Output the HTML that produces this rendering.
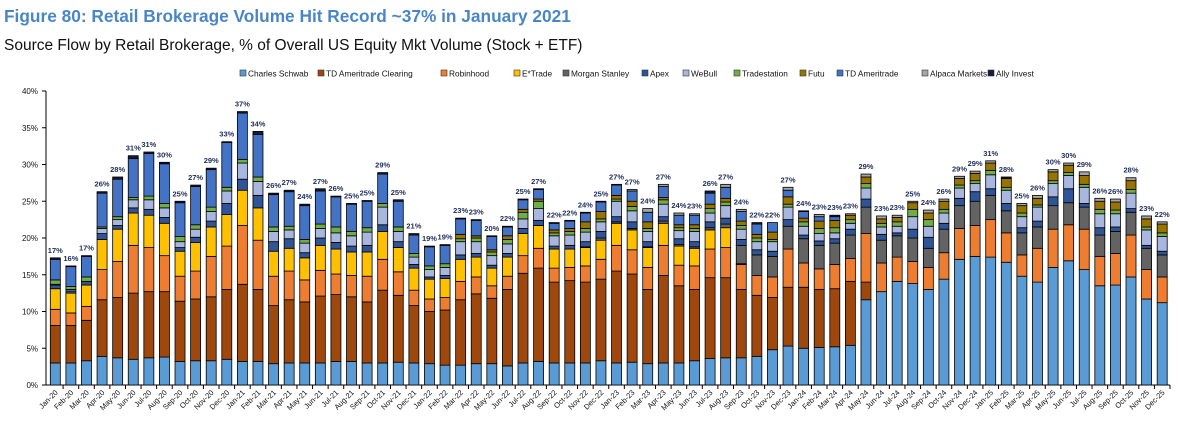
<!DOCTYPE html>
<html><head><meta charset="utf-8"><style>
body{margin:0;background:#fff;width:1178px;height:432px;overflow:hidden;font-family:"Liberation Sans",Arial,sans-serif}
svg{display:block}
</style></head><body>
<svg id="chart" width="1178" height="432">
<text x="4" y="22" fill="#4a86c5" font-size="17.3" font-weight="bold">Figure 80: Retail Brokerage Volume Hit Record ~37% in January 2021</text>
<text x="4" y="50" fill="#111" font-size="15.5">Source Flow by Retail Brokerage, % of Overall US Equity Mkt Volume (Stock + ETF)</text>
<g id="legend"></g>
<g id="axes"></g>
<g id="bars"></g>
<g id="labels"></g>
</svg>
<script>
const months=["Jan","Feb","Mar","Apr","May","Jun","Jul","Aug","Sep","Oct","Nov","Dec"];
const categories=[];
for(let y=20;y<=25;y++)for(const m of months)categories.push(m+"-"+y);
const seriesNames=["Charles Schwab","TD Ameritrade Clearing","Robinhood","E*Trade","Morgan Stanley","Apex","WeBull","Tradestation","Futu","TD Ameritrade","Alpaca Markets","Ally Invest"];
const seriesColors=["#5b9bd5","#9e480e","#ed7d31","#ffc000","#636363","#2f5597","#a9b7de","#70ad47","#997300","#4472c4","#a5a5a5","#1a1a3a"];
// per month: [schwab, tdClearing, robinhood, etrade, morganStanley, apex, webull, tradestation, futu, tdAmeritrade, alpaca, ally]
const rows=[
[3.0,5.1,2.2,2.8,0,0.5,0.1,0.6,0,2.8,0,0.2],
[3.0,5.1,1.7,2.7,0,0.3,0.2,0.4,0,2.7,0,0.1],
[3.3,5.5,1.9,2.9,0,0.5,0,0.6,0,2.8,0,0.1],
[3.9,7.7,4.1,4.1,0,0.8,0.7,0.2,0,4.6,0,0.2],
[3.7,8.2,4.9,4.4,0,0.5,0.8,0.4,0,5.1,0,0.3],
[3.5,9.0,6.5,4.4,0,0.7,1.1,0.3,0,5.3,0,0.4],
[3.7,9.0,6.0,4.4,0,0.8,1.3,0.5,0,5.8,0,0.2],
[3.8,8.9,4.9,4.4,0,0.8,1.3,0.6,0,5.4,0,0.2],
[3.2,8.2,3.4,3.4,0,0.5,0.8,0.7,0,4.6,0,0.2],
[3.3,8.4,3.8,3.9,0,0.7,1.1,0.6,0,5.2,0,0.2],
[3.3,8.7,5.5,4.0,0,0.8,1.3,0.6,0,5.1,0,0.2],
[3.5,9.5,5.9,4.3,0,1.5,1.7,0.5,0,6.1,0,0.1],
[3.2,10.5,8.0,4.8,0,1.5,2.2,0.5,0,6.3,0,0.2],
[3.2,9.8,6.7,4.4,0,1.7,1.9,0.6,0,5.8,0,0.4],
[2.9,7.9,4.0,3.4,0,1.3,1.4,0.6,0,4.4,0,0.2],
[3.0,8.6,3.9,3.1,0,1.3,1.2,0.5,0,4.7,0,0.2],
[3.0,8.3,3.0,3.0,0,0.7,1.3,0.5,0,4.6,0,0.2],
[3.0,9.1,3.5,3.4,0,1.0,1.3,0.6,0,4.5,0,0.3],
[3.2,9.1,2.8,3.4,0,0.9,1.3,0.8,0,4.1,0,0.1],
[3.2,8.8,2.9,3.2,0,0.8,1.4,0.6,0,3.7,0,0.1],
[3.0,8.3,3.5,3.3,0,0.9,1.8,0.6,0,3.6,0,0.1],
[3.0,9.9,4.2,3.8,0,0.9,2.4,0.5,0,4.0,0,0.2],
[3.1,9.1,3.2,3.3,0,0.8,1.4,0.6,0,3.5,0,0.2],
[3.0,7.8,2.1,3.0,0,0.5,1.0,0.5,0,2.5,0,0.2],
[2.9,7.1,1.7,2.7,0,0.3,1.0,0.5,0,2.6,0,0.1],
[2.7,7.5,1.7,2.6,0,0.4,1.1,0.5,0,2.5,0,0.1],
[2.7,8.9,2.5,3.0,0,0.6,1.8,0.4,0.6,2.1,0,0.1],
[2.9,9.5,2.3,2.7,0,0.5,1.6,0.5,0.3,2.1,0,0.1],
[2.9,8.9,1.7,2.4,0,0.4,1.3,0.5,0.3,1.8,0,0.1],
[2.6,10.4,1.8,2.6,0,0.5,1.3,0.6,0.5,1.2,0,0.1],
[3.0,12.2,2.4,3.0,0,0.7,1.3,0.9,0.4,1.3,0,0.1],
[3.2,12.7,2.7,3.1,0,0.7,1.6,1.0,0.3,1.3,0,0.1],
[3.0,11.0,1.9,2.6,0,0.4,1.4,0.4,0.4,0.9,0,0.1],
[3.0,11.2,1.8,2.5,0,0.5,1.4,0.5,0.4,1.0,0,0.1],
[3.0,11.0,2.2,2.5,0.1,0.7,1.3,0.5,0.9,1.2,0,0.1],
[3.3,11.1,2.7,2.6,0.3,0.9,1.3,0.4,1.0,1.3,0,0.1],
[3.0,12.5,3.5,3.0,0.2,0.7,2.1,0.3,0.5,1.4,0,0.1],
[3.1,12.0,3.3,2.7,0.2,0.9,1.5,0.6,0.7,1.4,0.2,0],
[2.9,10.1,3.0,2.7,0.1,0.7,1.4,0.4,0.9,1.3,0.5,0],
[3.0,11.9,4.1,3.0,0.3,0.6,1.7,0.6,0.3,1.5,0.3,0],
[3.0,10.5,2.8,2.6,0.2,0.8,1.1,0.4,0.4,1.3,0.3,0],
[3.3,9.7,3.2,2.4,0.2,0.7,1.4,0.4,0.5,1.3,0.2,0],
[3.6,11.0,3.9,2.6,0.3,0.8,1.2,0.6,0.6,1.5,0,0.3],
[3.7,10.9,4.1,2.7,0.5,0.8,1.7,0.5,0.5,1.5,0.4,0],
[3.7,9.3,3.4,0.1,2.5,0.8,1.4,0.5,0.6,1.3,0.3,0],
[3.9,8.3,2.7,0,2.8,0.7,1.1,0.5,0.5,1.4,0,0.2],
[4.8,7.1,2.8,0,2.8,0.7,1.3,0.3,1.0,1.3,0,0],
[5.3,8.0,5.2,0,3.1,0.9,1.7,0.4,1.0,0.9,0.4,0],
[5.0,8.3,3.3,0,3.3,0.5,1.2,0.6,0.5,0.9,0,0.1],
[5.1,7.9,2.8,0,3.2,0.6,1.0,0.7,1.0,0.6,0.3,0],
[5.2,7.9,3.3,0,2.9,0.6,0.8,0.7,1.0,0.5,0,0.2],
[5.4,8.7,3.1,0,3.2,0.8,0.8,0.5,0.6,0,0.2,0],
[11.6,2.4,6.6,0,3.6,1.1,1.5,0.6,0.9,0,0.4,0],
[12.7,0,3.9,0,3.1,0.8,1.0,0.5,0.6,0,0.4,0],
[14.1,0,3.3,0,2.9,0.4,0.9,0.6,0.6,0,0.3,0],
[13.8,0,3.0,0,3.2,1.2,1.7,1.0,0.9,0,0.2,0],
[13.0,0,3.0,0,2.6,1.5,1.5,0.9,0.9,0,0.4,0],
[14.4,0,3.6,0,3.2,0.8,1.4,0.5,1.1,0,0.3,0],
[17.1,0,4.2,0,3.1,1.0,1.4,0.4,0.9,0,0.3,0],
[17.5,0,4.2,0,3.3,1.3,1.1,0.4,1.0,0,0.3,0],
[17.4,0,5.1,0,3.3,0.9,1.9,0.6,1.0,0,0.3,0],
[16.7,0,4.0,0,3.0,1.0,1.8,0.4,1.2,0,0,0.2],
[14.8,0,2.9,0,3.0,0.7,1.5,0.5,1.0,0,0.3,0],
[14.0,0,4.6,0,2.9,0.8,1.9,0.3,0.9,0,0.4,0],
[16.0,0,5.2,0,3.2,1.2,1.8,0.4,1.2,0,0.3,0],
[16.9,0,4.9,0,3.0,1.9,1.8,0.4,1.0,0,0.3,0],
[15.7,0,5.5,0,3.0,0.5,2.2,0.4,1.2,0,0.5,0],
[13.5,0,4.0,0,2.9,1.0,1.9,0.6,1.1,0,0.4,0],
[13.6,0,4.3,0,3.0,0.6,1.8,0.5,1.1,0,0.4,0],
[14.7,0,5.7,0,3.1,0.5,2.1,0.5,1.2,0,0.4,0],
[11.7,0,4.0,0,2.9,0.4,2.1,0.4,1.1,0,0.4,0],
[11.2,0,3.5,0,3.0,0.5,2.0,0.5,1.2,0,0.3,0]
];
const totalLabels=[17,16,17,26,28,31,31,30,25,27,29,33,37,34,26,27,24,27,26,25,25,29,25,21,19,19,23,23,20,22,25,27,22,22,24,25,27,27,24,27,24,23,26,27,24,22,22,27,24,23,23,23,29,23,23,25,24,26,29,29,31,28,25,26,30,30,29,26,26,28,23,22];
const yTicks=[0,5,10,15,20,25,30,35,40];

const NS="http://www.w3.org/2000/svg";
function mk(tag,attrs,parent){const e=document.createElementNS(NS,tag);for(const k in attrs)e.setAttribute(k,attrs[k]);parent.appendChild(e);return e;}
const y0=385,y1=91,yMax=40;
const yScale=v=>y0-(v/yMax)*(y0-y1);
const xScale=i=>55.3+i*15.59;
const bw=10;

const axes=document.getElementById('axes');
for(const t of yTicks){
  const tx=mk('text',{x:38,y:yScale(t)+3,'text-anchor':'end','font-size':8,fill:'#111'},axes);
  tx.textContent=t+'%';
  
  
  const tk=mk('line',{x1:42,x2:46,y1:yScale(t),y2:yScale(t),stroke:'#000','stroke-width':1},axes);
  
  
}
const yl=mk('line',{x1:46,x2:46,y1:y1,y2:y0,stroke:'#000','stroke-width':1},axes);


const xl=mk('line',{x1:46,x2:1170,y1:y0,y2:y0,stroke:'#000','stroke-width':1},axes);



const bars=document.getElementById('bars');
const labels=document.getElementById('labels');
categories.forEach((c,i)=>{
  const cx=xScale(i);
  const tk=mk('line',{x1:cx+7.8,x2:cx+7.8,y1:y0,y2:y0+4,stroke:'#000','stroke-width':1},axes);
  
  
  const xt=mk('text',{x:cx+3,y:y0+8,'text-anchor':'end','font-size':7.5,fill:'#111',transform:`rotate(-45 ${cx+3} ${y0+8})`},axes);
  xt.textContent=c;
  
  
  let cum=0;
  const g=mk('g',{},bars);
  
  
  rows[i].forEach((v,s)=>{
    if(v<=0)return;
    const top=yScale(cum+v),bot=yScale(cum);
    const r=mk('rect',{x:cx-bw/2,y:top,width:bw,height:bot-top,fill:seriesColors[s],stroke:'#000','stroke-width':0.8},g);
    
    
    cum+=v;
  });
  const lt=mk('text',{x:cx,y:yScale(cum)-5,'text-anchor':'middle','font-size':7.5,'font-weight':'bold',fill:'#1f2d5a'},labels);
  lt.textContent=totalLabels[i]+'%';
  
  
});

const legend=document.getElementById('legend');
const legX=[240,318,441,514,563,642,683,734,800,837,922,988];
seriesNames.forEach((n,s)=>{
  const g=mk('g',{},legend);
  
  
  mk('rect',{x:legX[s],y:70,width:6,height:6,fill:seriesColors[s],stroke:'#333','stroke-width':0.6},g);
  const t=mk('text',{x:legX[s]+8,y:76.5,'font-size':8.3,fill:'#111'},g);
  t.textContent=n;
});
</script>
</body></html>
